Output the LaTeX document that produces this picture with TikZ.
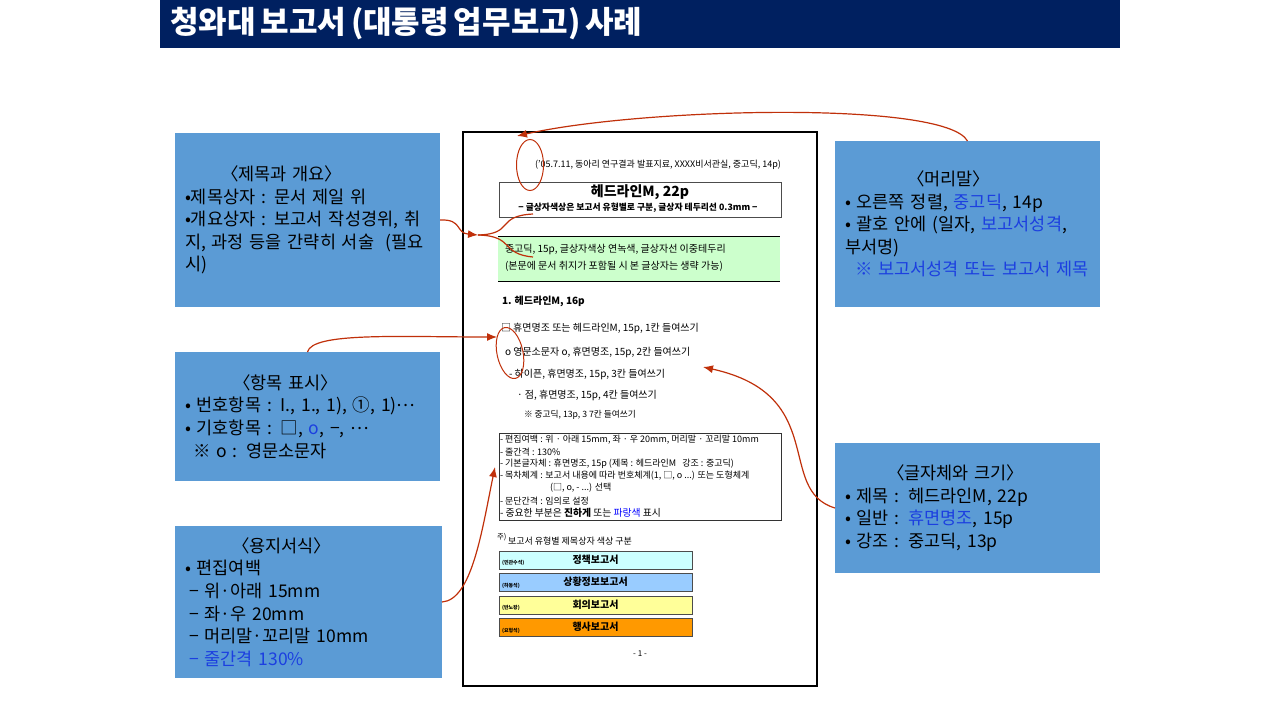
\documentclass[tikz,border=0pt]{standalone}
\usepackage{fontspec}
\usepackage{xcolor}
\setmainfont{Noto Sans CJK KR}
\newfontfamily\notefont[WordSpace=.7]{Noto Sans CJK KR}
\usetikzlibrary{
  arrows.meta,
  shapes.geometric
}
\definecolor{barnavy}{HTML}{002060}
\definecolor{notebg}{HTML}{5B9BD5}
\definecolor{markred}{HTML}{C0300A}
\definecolor{noteblue}{HTML}{1C3FE0}
\newcommand{\hl}[1]{\textcolor{noteblue}{#1}}
\newcommand{\middots}[1]{\raisebox{.3em}{#1}}

\begin{document}
\begin{tikzpicture}[x=1pt, y=-1pt,
    every node/.style={inner sep=0pt, outer sep=0pt},
    note/.style={fill=notebg, anchor=north west, align=left, text width=#1, inner xsep=10pt, font=\notefont\fontsize{17.5}{22.6}\selectfont},
    docline/.style={anchor=west, font=\fontsize{10}{12}\selectfont},
    boxline/.style={anchor=west, font=\fontsize{9}{10}\selectfont},
    typebar/.style={draw=black!70, line width=.9pt, anchor=north west, minimum width=193pt, minimum height=18pt, font=\bfseries\fontsize{10}{12}\selectfont},
    tinylabel/.style={anchor=west, font=\bfseries\fontsize{5}{6}\selectfont},
    ovalmark/.style={draw=markred, line width=1pt, ellipse},
    link/.style={draw=markred, line width=1.2pt, -{Latex[length=10pt,width=8pt]}},
    linkplain/.style={draw=markred, line width=1.2pt}]
\useasboundingbox (0,0) rectangle (1280,720);

\node [fill=barnavy, anchor=north west, minimum width=960pt, minimum height=48pt] (titlebar) at (160,0) {};
\node [anchor=west, text=white, font=\notefont\bfseries\fontsize{31}{34}\selectfont] (titletext) at (170,24) {청와대 보고서 (대통령 업무보고) 사례};

% side notes
\node [note=245pt, minimum height=174pt] (coverbox) at (175,133) {
\hspace*{36pt}〈제목과 개요〉\\
•제목상자 : 문서 제일 위\\
•개요상자 : 보고서 작성경위, 취\\
지, 과정 등을 간략히 서술~~(필요\\
시)};
\node [note=245pt, minimum height=129pt] (itembox) at (175,352) {
\hspace*{48pt}〈항목 표시〉\\
• 번호항목 : I., 1., 1), ①, 1)\middots{…}\\
• 기호항목 : □, \hl{o}, −, \middots{…}\\
\hspace*{8pt}※ o : 영문소문자};
\node [note=247pt, minimum height=152pt] (pagebox) at (175,526) {
\hspace*{47pt}〈용지서식〉\\
• 편집여백\\
\hspace*{4pt}− 위·아래 15mm\\
\hspace*{4pt}− 좌·우 20mm\\
\hspace*{4pt}− 머리말·꼬리말 10mm\\
\hspace*{4pt}\hl{− 줄간격 130\%}};
\node [note=245pt, minimum height=166pt] (headbox) at (835,141) {
\hspace*{62pt}〈머리말〉\\
• 오른쪽 정렬, \hl{중고딕}, 14p\\
• 괄호 안에 (일자, \hl{보고서성격},\\
부서명)\\
\hspace*{10pt}\hl{※ 보고서성격 또는 보고서 제목}};
\node [note=245pt, minimum height=130pt] (fontbox) at (835,443) {
\hspace*{42pt}〈글자체와 크기〉\\
• 제목 : 헤드라인M, 22p\\
• 일반 : \hl{휴면명조}, 15p\\
• 강조 : 중고딕, 13p};

% report page
\node [draw=black, line width=1.6pt, fill=white, anchor=north west, minimum width=354pt, minimum height=554pt] (page) at (463,132) {};
\node [docline, font=\fontsize{9}{10}\selectfont] (dateline) at (535,165) {('05.7.11, 동아리 연구결과 발표지료, XXXX비서관실, 중고딕, 14p)};
\node [draw=black!70, line width=.9pt, anchor=north west, minimum width=282pt, minimum height=35pt] (headline) at (499,182) {};
\node [font=\bfseries\fontsize{14}{16}\selectfont] (headtext) at (640,192) {헤드라인M, 22p};
\node [font=\bfseries\fontsize{8.8}{10}\selectfont] (headsub) at (638,208) {− 글상자색상은 보고서 유형별로 구분, 글상자 테두리선 0.3mm −};
\node [fill=green!20, anchor=north west, minimum width=282pt, minimum height=45pt] (greenbox) at (498,236) {};
\draw [line width=.9pt] (greenbox.north west) -- (greenbox.north east);
\draw [line width=.9pt] (greenbox.south west) -- (greenbox.south east);
\node [docline] (greenone) at (505,250) {중고딕, 15p, 글상자색상 연녹색, 글상자선 이중테두리};
\node [docline] (greentwo) at (505,266) {(본문에 문서 취지가 포함될 시 본 글상자는 생략 가능)};
\node [docline, font=\bfseries\fontsize{10}{12}\selectfont] (sectionline) at (502,301) {1. 헤드라인M, 16p};
\node [docline] (levelone) at (501,328) {□ 휴면명조 또는 헤드라인M, 15p, 1칸 들여쓰기};
\node [docline] (leveltwo) at (505,352) {o 영문소문자 o, 휴면명조, 15p, 2칸 들여쓰기};
\node [docline] (levelthree) at (509,374) {- 하이픈, 휴면명조, 15p, 3칸 들여쓰기};
\node [docline] (levelfour) at (517,395) {· 점, 휴면명조, 15p, 4칸 들여쓰기};
\node [docline, font=\fontsize{8.7}{10}\selectfont] (levelfive) at (524,415) {※ 중고딕, 13p, 3~7칸 들여쓰기};

\node [draw=black!80, line width=.8pt, anchor=north west, minimum width=282pt, minimum height=87pt] (rulebox) at (499,433) {};
\node [boxline] (ruleone) at (500,440) {- 편집여백 : 위 · 아래 15mm, 좌 · 우 20mm, 머리말 · 꼬리말 10mm};
\node [boxline] (ruletwo) at (500,452) {- 줄간격 : 130\%};
\node [boxline] (rulethree) at (500,464) {- 기본글자체 : 휴면명조, 15p (제목 : 헤드라인M~~~강조 : 중고딕)};
\node [boxline] (rulefour) at (500,476) {- 목차체계 : 보고서 내용에 따라 번호체계(1, □, o ...) 또는 도형체계};
\node [boxline] (rulefive) at (550,488) {(□, o, - ...) 선택};
\node [boxline] (rulesix) at (500,501) {- 문단간격 : 임의로 설정};
\node [boxline, font=\fontsize{9.8}{10}\selectfont] (ruleseven) at (500,513) {- 중요한 부분은 \textbf{진하게} 또는 \textcolor{blue}{파랑색} 표시};

\node [anchor=west, font=\fontsize{7.5}{8}\selectfont] (footmark) at (497,537) {주)};
\node [boxline] (footline) at (508,541) {보고서 유형별 제목상자 색상 구분};
\node [typebar, fill={rgb,255:red,204;green,255;blue,255}] (policybar) at (499,551) {정책보고서};
\node [typebar, fill={rgb,255:red,153;green,204;blue,255}] (statusbar) at (499,573) {상황정보보고서};
\node [typebar, fill={rgb,255:red,255;green,255;blue,153}] (meetbar) at (499,596) {회의보고서};
\node [typebar, fill={rgb,255:red,255;green,153;blue,0}] (eventbar) at (499,618) {행사보고서};
\node [tinylabel] (policytag) at (502,563) {(민관수석)};
\node [tinylabel] (statustag) at (502,586) {(하동석)};
\node [tinylabel] (meettag) at (502,608) {(반노왕)};
\node [tinylabel] (eventtag) at (502,631) {(요형석)};
\node [font=\fontsize{8}{10}\selectfont] (pagenum) at (640,654) {- 1 -};

% red marks
\node [ovalmark, minimum width=27pt, minimum height=51pt] (dateoval) at (530,165) {};
\node [ovalmark, minimum width=26pt, minimum height=52pt, rotate=12] (bulletoval) at (510,353) {};
\coordinate (bracemid) at (478,235);
\coordinate (bracetop) at (533,214);
\coordinate (bracelow) at (533,257);
\coordinate (fonttarget) at (703,367);
\coordinate (ruletarget) at (495,467);
\coordinate (bullettarget) at (497,337);
\coordinate (datetarget) at (517,136);

\draw [link] (headbox.north) .. controls (945,100) and (640,108) .. (datetarget);
\draw [link] (coverbox.east) .. controls (463,219) and (455,233) .. (bracemid);
\draw [linkplain] (bracetop) .. controls (495,216) and (515,234) .. (bracemid);
\draw [linkplain] (bracemid) .. controls (515,236) and (500,254) .. (bracelow);
\draw [link] (itembox.north) .. controls (312,332) and (400,337) .. (bullettarget);
\draw [link] (pagebox.east) .. controls (472,600) and (482,530) .. (ruletarget);
\draw [link] (fontbox.west) .. controls (775,490) and (830,395) .. (fonttarget);
\end{tikzpicture}
\end{document}
